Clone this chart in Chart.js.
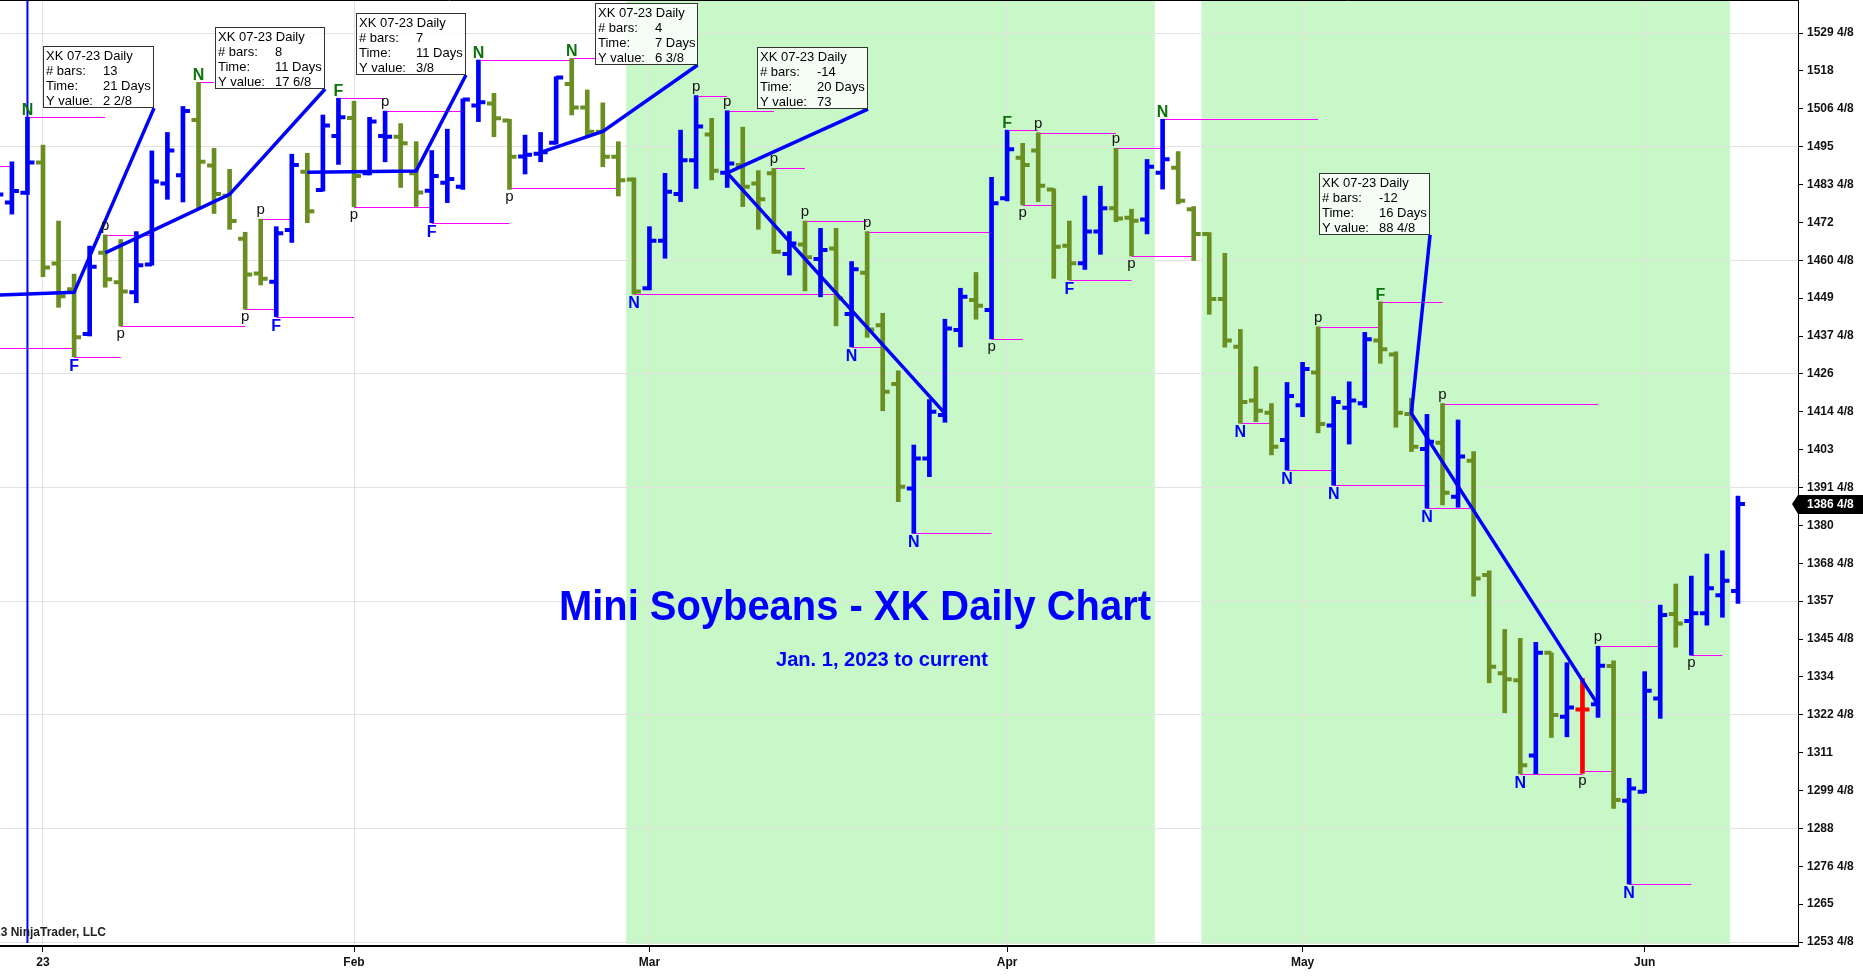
<!DOCTYPE html>
<html>
<head>
<meta charset="utf-8">
<title>Mini Soybeans - XK Daily Chart</title>
<script src="https://cdn.jsdelivr.net/npm/chart.js@4.4.0/dist/chart.umd.min.js"></script>
<style>
  html, body { margin: 0; padding: 0; background: #fff; overflow: hidden; }
  #wrap { width: 1863px; height: 977px; position: relative; }
</style>
</head>
<body>
<div id="wrap"><canvas id="chartPlaceholder"></canvas></div>
<script>
// daily bars, trading-day index -3 (late Dec 2022) .. 109 (Jun 9 2023)
const firstBarIdx = -3;
const opens = [
  1484, 1478, 1481, 1490.2, 1459.5, 1451.7, 1438.1, 1462.8, 1453.8, 1450.8,
  1459.2, 1483.8, 1486.3, 1503.1, 1489.3, 1480.1, 1467, 1456.5, 1454, 1469.7,
  1487.4, 1481.8, 1498.2, 1503.7, 1486.9, 1498.2, 1498, 1486.9, 1481.6, 1484,
  1482.8, 1507.5, 1508.1, 1502.9, 1492, 1492.8, 1496.2, 1514, 1506.9, 1499.5,
  1491.9, 1485, 1452, 1466.4, 1480.6, 1490.9, 1498.7, 1487.1, 1489.4, 1483.8,
  1486.9, 1462.4, 1465.3, 1460.9, 1464.1, 1444.2, 1456.7, 1440.8, 1422.9, 1391.2,
  1400.3, 1413.5, 1439.3, 1448.4, 1445.4, 1479.3, 1491.6, 1493.8, 1482, 1464.9,
  1459.6, 1469.2, 1476.3, 1473.4, 1472.9, 1487.1, 1488.6, 1476, 1468.5, 1448.7,
  1434.2, 1417.9, 1414.2, 1405.9, 1416.5, 1426.4, 1410.3, 1415.7, 1417.1, 1436.1,
  1431.9, 1413.8, 1403.2, 1405.1, 1388.7, 1399.6, 1364.9, 1335.1, 1333, 1310.1,
  1341.3, 1321.9, 1324.1, 1325.7, 1337.3, 1296.4, 1299.1, 1327.4, 1353.1, 1351,
  1353.3, 1358.8, 1360.1
];
const highs = [
  1492, 1490.4, 1503.9, 1495.5, 1472.4, 1456.3, 1464.8, 1468.2, 1466.8, 1469.2,
  1493.7, 1499.3, 1507.2, 1514.5, 1494.5, 1488.1, 1469, 1473, 1470.7, 1492.7,
  1493, 1504.6, 1509.7, 1508.8, 1503.9, 1505.8, 1502, 1496.5, 1493.8, 1500.3,
  1509.5, 1521.3, 1511.2, 1503.3, 1498.5, 1499.3, 1516.2, 1521.8, 1512.2, 1508.3,
  1496.5, 1485.5, 1470.7, 1486.9, 1500, 1510.5, 1503.6, 1505.9, 1500.9, 1487.7,
  1488.4, 1469.2, 1472.4, 1470.2, 1470.2, 1460.1, 1469.2, 1444.4, 1426.9, 1404.4,
  1418.2, 1442.6, 1452, 1456.8, 1485.7, 1500, 1496, 1499.2, 1482.2, 1472.4,
  1480, 1483, 1494.5, 1476, 1491.1, 1503.3, 1493.5, 1476.8, 1468.9, 1462.6,
  1439.5, 1428.2, 1417, 1423.4, 1429.5, 1440.3, 1419.1, 1423.6, 1438.6, 1447.9,
  1432.7, 1418.6, 1413.7, 1417, 1412, 1402.4, 1366.2, 1348.4, 1345.7, 1344.5,
  1341.3, 1338.3, 1333.5, 1343.3, 1338.9, 1303.2, 1335.6, 1355.8, 1362.2, 1364.6,
  1371.3, 1372.3, 1388.9
];
const lows = [
  1477, 1474.5, 1480.5, 1455.5, 1446.2, 1431.2, 1437.5, 1452.3, 1440.5, 1447.6,
  1459, 1479, 1478.2, 1476.2, 1474.7, 1469.9, 1445.6, 1453, 1443.4, 1465.9,
  1471.9, 1481.5, 1489.6, 1476.8, 1486.4, 1490.4, 1482.6, 1476.8, 1471.9, 1478,
  1482, 1502.6, 1498, 1482, 1486.7, 1490.4, 1495.8, 1504.6, 1498.2, 1488.9,
  1480, 1450.2, 1451.5, 1461.1, 1478.3, 1482.3, 1484.9, 1482.6, 1476.8, 1469.9,
  1462.6, 1456, 1451.2, 1449.4, 1440.6, 1434.2, 1437.1, 1414.8, 1387.2, 1377.6,
  1394.8, 1411.3, 1434.2, 1442.6, 1436.6, 1478.5, 1477.3, 1478.3, 1455, 1454.5,
  1457.7, 1462.3, 1472.2, 1461.8, 1468.5, 1482.1, 1477.6, 1460.4, 1444.1, 1434.1,
  1411, 1411.5, 1401.4, 1396.8, 1413, 1408.1, 1392.2, 1404.7, 1415.8, 1429.2,
  1409.8, 1402.4, 1385.2, 1386.2, 1385.5, 1358.5, 1332.2, 1323.1, 1304.5, 1304.5,
  1315.6, 1315.8, 1304.7, 1321.7, 1294.1, 1271.1, 1298.8, 1321.4, 1343, 1340.6,
  1349.7, 1352.1, 1356.3
];
const closes = [
  1480.5, 1481.5, 1490.2, 1458.3, 1449.6, 1437.1, 1458.5, 1454.7, 1451, 1459,
  1484.4, 1493.8, 1505.8, 1490.4, 1480.6, 1472.4, 1456.2, 1454.9, 1468.7, 1489.4,
  1475.4, 1501.4, 1503.9, 1486.1, 1502.6, 1498, 1496, 1481.1, 1486.1, 1485.2,
  1509.3, 1508.5, 1503.6, 1491.9, 1492.5, 1493.3, 1516, 1506.9, 1499.5, 1491.9,
  1484.8, 1451, 1466.4, 1481.3, 1490.9, 1501.1, 1487.7, 1489.9, 1482.8, 1479,
  1463.1, 1465.6, 1461.4, 1463.6, 1448.9, 1457.8, 1439.5, 1420.6, 1391.7, 1400.3,
  1414.5, 1439.8, 1449.4, 1446.7, 1477.8, 1494.2, 1489.4, 1483.1, 1464.6, 1459.6,
  1469.2, 1476.3, 1473.2, 1472.5, 1488.9, 1491.2, 1478.6, 1468.5, 1448.7, 1436.1,
  1417.5, 1414.8, 1403.9, 1419.3, 1427.5, 1410.8, 1417.5, 1417.9, 1436.5, 1433.5,
  1414.2, 1403.9, 1405.4, 1389.9, 1400.9, 1363.9, 1337.1, 1333.3, 1307.2, 1341.3,
  1322.4, 1324.7, 1324.1, 1337.4, 1296.6, 1300.1, 1329.8, 1352.8, 1350.2, 1353.3,
  1360.9, 1363.2, 1386.5
];
// u = up trend, d = down trend, e = even bar
const trend = [
  "u","u","u","d","d","d","u","d","d","u",
  "u","u","u","d","d","d","d","d","u","u",
  "d","u","u","d","u","u","d","d","u","u",
  "u","u","d","d","u","u","u","d","d","d",
  "d","d","u","u","u","u","d","u","d","d",
  "d","u","d","u","d","u","d","d","d","u",
  "u","u","u","d","u","u","d","d","d","d",
  "u","u","d","d","u","u","d","d","d","d",
  "d","d","d","u","u","d","u","u","u","d",
  "d","d","u","d","u","d","d","d","d","u",
  "d","u","e","u","d","u","u","u","d","u",
  "u","u","u"
];

const monthTickIdx = [0, 20, 39, 62, 81, 103];
const monthLabels = ["23", "Feb", "Mar", "Apr", "May", "Jun"];
const priceTicks = [
  1253.5, 1265, 1276.5, 1288, 1299.5, 1311, 1322.5, 1334, 1345.5, 1357,
  1368.5, 1380, 1391.5, 1403, 1414.5, 1426, 1437.5, 1449, 1460.5, 1472,
  1483.5, 1495, 1506.5, 1518, 1529.5
];

// shaded sessions (bar index from / to)
const shadeFrom = [37.5, 74.5];
const shadeTo = [71.5, 108.5];
const yearBreakIdx = -1;

// swing markers
const markerIdx = [-1, 2, 4, 5, 10, 13, 14, 15, 19, 20, 22, 25, 28, 30, 34, 38, 42, 44, 47, 49,
  52, 53, 56, 61, 62, 63, 64, 66, 69, 70, 72, 77, 80, 82, 83, 86, 89, 90, 95, 99, 100, 102, 106];
const markerText = ["N","F","p","p","N","p","p","F","F","p","p","F","N","p","N","N","p","p","p","p",
  "N","p","N","p","F","p","p","F","p","p","N","N","N","p","N","F","N","p","N","p","p","N","p"];
const markerSide = ["hi","lo","hi","lo","hi","lo","hi","lo","hi","lo","hi","lo","hi","lo","hi","lo","hi","hi","hi","hi",
  "lo","hi","lo","lo","hi","lo","hi","lo","hi","lo","hi","lo","lo","hi","lo","hi","lo","hi","lo","lo","hi","lo","lo"];

// swing level lines
const levelFrom = [-4, -4, -1, 2, 4, 5, 10, 13, 14, 15, 19, 20, 22, 25, 28, 34, 30, 38, 42, 44, 47, 49, 53, 52,
  56, 61, 62, 64, 63, 66, 69, 70, 72, 82, 77, 86, 80, 83, 89, 90, 95, 99, 100, 102, 106];
const levelTo = [-2, 2, 4, 5, 7, 13, 11, 15, 16, 20, 22, 25, 27, 30, 34, 36, 37, 51, 44, 47, 49, 53, 61, 54,
  61, 63, 64, 69, 65, 70, 72, 74, 82, 86, 79, 90, 83, 89, 92, 100, 99, 101, 104, 106, 108];
const levelPrice = [1489.1, 1434, 1503.9, 1431.2, 1468.2, 1440.5, 1514.5, 1445.6, 1473, 1443.4, 1509.7, 1476.8,
  1505.8, 1471.9, 1521.3, 1521.8, 1482.3, 1450.2, 1510.5, 1505.9, 1488.4, 1472.4, 1469.2, 1434.2,
  1377.6, 1436.6, 1500, 1499.2, 1477.3, 1454.5, 1494.5, 1461.8, 1503.3, 1440.3, 1411, 1447.9,
  1396.8, 1392.2, 1385.2, 1417, 1304.5, 1305.3, 1343.3, 1271.1, 1340.6];

// ruler drawings
const rulerFromIdx = [-11, 4, 17, 32, 58, 100];
const rulerFromPrice = [1448.5, 1462.75, 1487.25, 1493.25, 1414, 1325.5];
const rulerToIdx = [2, 12, 24, 36, 44, 88];
const rulerToPrice = [1450.75, 1480.5, 1487.625, 1499.625, 1487, 1414];
const rulerBoxIdx = [7.14, 18.14, 27.2, 42.1, 53.05, 89.2];
const rulerBoxPrice = [1506.7, 1512.5, 1516.75, 1519.8, 1506.4, 1468.2];
const rulerBars = ["13", "8", "7", "4", "-14", "-12"];
const rulerTime = ["21 Days", "11 Days", "11 Days", "7 Days", "20 Days", "16 Days"];
const rulerYValue = ["2 2/8", "17 6/8", "3/8", "6 3/8", "73", "88 4/8"];
const instrumentName = "XK 07-23 Daily";

const chartTitle = "Mini Soybeans - XK Daily Chart";
const chartSubtitle = "Jan. 1, 2023 to current";
const copyrightText = "\u00a9 2023 NinjaTrader, LLC";

const TREND_COLORS = { u: "#0000ff", d: "#6b8e23", e: "#ff0000" };
const FONT = "Arial, 'Liberation Sans', sans-serif";

function fmtPrice(v) {
  const whole = Math.floor(v + 1e-9);
  const eighths = Math.round((v - whole) * 8);
  return eighths === 0 ? `${whole}` : `${whole} ${eighths}/8`;
}

const barIdx = opens.map((_, k) => firstBarIdx + k);

function clipArea(ctx, a) {
  ctx.beginPath();
  ctx.rect(a.left, a.top, a.right - a.left, a.bottom - a.top);
  ctx.clip();
}

const ohlcPlugin = {
  id: "ohlc",
  beforeDraw(chart) {
    const { ctx, chartArea: a, scales } = chart;
    ctx.save();
    ctx.fillStyle = "#fff";
    ctx.fillRect(0, 0, chart.width, chart.height);
    ctx.fillStyle = "#c8f8c8";
    shadeFrom.forEach((f, k) => {
      const x1 = scales.x.getPixelForValue(f);
      const x2 = scales.x.getPixelForValue(shadeTo[k]);
      ctx.fillRect(x1, a.top, x2 - x1, a.bottom - a.top - 2);
    });
    ctx.restore();
  },
  beforeDatasetsDraw(chart) {
    const { ctx, chartArea: a, scales } = chart;
    ctx.save();
    clipArea(ctx, a);
    ctx.strokeStyle = "#ff00ff";
    ctx.lineWidth = 1;
    levelFrom.forEach((f, k) => {
      const y = Math.round(scales.y.getPixelForValue(levelPrice[k])) + 0.5;
      ctx.beginPath();
      ctx.moveTo(scales.x.getPixelForValue(f), y);
      ctx.lineTo(scales.x.getPixelForValue(levelTo[k]), y);
      ctx.stroke();
    });
    const xb = scales.x.getPixelForValue(yearBreakIdx);
    ctx.strokeStyle = "#0000ff";
    ctx.lineWidth = 2;
    ctx.beginPath();
    ctx.moveTo(xb, a.top);
    ctx.lineTo(xb, a.bottom - 3);
    ctx.stroke();
    ctx.restore();
  },
  afterDatasetDraw(chart, args) {
    if (args.index !== 0) return;
    const { ctx, chartArea: a, scales } = chart;
    ctx.save();
    clipArea(ctx, a);
    ctx.lineWidth = 4;
    barIdx.forEach((i, k) => {
      const cx = scales.x.getPixelForValue(i);
      const yo = scales.y.getPixelForValue(opens[k]);
      const yc = scales.y.getPixelForValue(closes[k]);
      ctx.strokeStyle = TREND_COLORS[trend[k]];
      ctx.beginPath();
      ctx.moveTo(cx - 7, yo);
      ctx.lineTo(cx, yo);
      ctx.moveTo(cx, yc);
      ctx.lineTo(cx + 7, yc);
      ctx.stroke();
    });
    ctx.restore();
  },
  afterDatasetsDraw(chart) {
    const { ctx, chartArea: a, scales } = chart;
    ctx.save();
    clipArea(ctx, a);

    // swing markers
    markerIdx.forEach((i, k) => {
      const k2 = i - firstBarIdx;
      const cx = scales.x.getPixelForValue(i);
      const txt = markerText[k];
      const hi = markerSide[k] === "hi";
      ctx.textAlign = "center";
      ctx.textBaseline = "alphabetic";
      if (txt === "p") {
        ctx.font = `15px ${FONT}`;
        ctx.fillStyle = "#111";
        const y = hi ? scales.y.getPixelForValue(highs[k2]) - 5 : scales.y.getPixelForValue(lows[k2]) + 12;
        ctx.fillText(txt, cx, y);
      } else {
        ctx.font = `bold 16px ${FONT}`;
        ctx.fillStyle = hi ? "#0a730a" : "#0000ff";
        const y = hi ? scales.y.getPixelForValue(highs[k2]) - 2 : scales.y.getPixelForValue(lows[k2]) + 14;
        ctx.fillText(txt, cx, y);
      }
    });

    // ruler boxes
    ctx.font = `13px ${FONT}`;
    ctx.textAlign = "left";
    ctx.textBaseline = "alphabetic";
    rulerBoxIdx.forEach((bi, k) => {
      const vals = [rulerBars[k], rulerTime[k], rulerYValue[k]];
      const w = Math.round(Math.max(ctx.measureText(instrumentName).width + 6,
        ...vals.map(v => ctx.measureText(v).width + 63)));
      const h = 62;
      const bx = Math.round(scales.x.getPixelForValue(bi));
      const by = Math.round(scales.y.getPixelForValue(rulerBoxPrice[k]));
      const x0 = bx - w, y0 = by - h;
      ctx.fillStyle = "rgba(255,255,255,0.8)";
      ctx.fillRect(x0, y0, w, h);
      ctx.strokeStyle = "#333";
      ctx.lineWidth = 1;
      ctx.strokeRect(x0 + 0.5, y0 + 0.5, w - 1, h - 1);
      ctx.fillStyle = "#000";
      ctx.fillText(instrumentName, x0 + 3, y0 + 14);
      ["# bars:", "Time:", "Y value:"].forEach((lab, j) => {
        ctx.fillText(lab, x0 + 3, y0 + 29 + j * 15);
        ctx.fillText(vals[j], x0 + 60, y0 + 29 + j * 15);
      });
    });

    // title
    ctx.fillStyle = "#0000ff";
    ctx.textAlign = "center";
    ctx.font = `bold 42px ${FONT}`;
    let tw = ctx.measureText(chartTitle).width;
    ctx.save();
    ctx.translate(855, 620);
    ctx.scale(592 / tw, 1);
    ctx.fillText(chartTitle, 0, 0);
    ctx.restore();
    ctx.font = `bold 20px ${FONT}`;
    tw = ctx.measureText(chartSubtitle).width;
    ctx.save();
    ctx.translate(882, 666);
    ctx.scale(212 / tw, 1);
    ctx.fillText(chartSubtitle, 0, 0);
    ctx.restore();

    // copyright
    ctx.fillStyle = "#222";
    ctx.textAlign = "right";
    ctx.font = `bold 12px ${FONT}`;
    ctx.fillText(copyrightText, 106, 936);
    ctx.restore();
  },
  afterDraw(chart) {
    const { ctx, chartArea: a, scales } = chart;
    const last = closes[closes.length - 1];
    const y = Math.round(scales.y.getPixelForValue(last));
    ctx.save();
    ctx.fillStyle = "#000";
    ctx.beginPath();
    ctx.moveTo(a.right - 6, y);
    ctx.lineTo(a.right, y - 9);
    ctx.lineTo(chart.width, y - 9);
    ctx.lineTo(chart.width, y + 10);
    ctx.lineTo(a.right, y + 10);
    ctx.closePath();
    ctx.fill();
    ctx.fillStyle = "#fff";
    ctx.font = `bold 12px ${FONT}`;
    ctx.textAlign = "left";
    ctx.textBaseline = "middle";
    ctx.fillText(fmtPrice(last), a.right + 9, y + 1);
    ctx.strokeStyle = "#000";
    ctx.lineWidth = 1;
    ctx.beginPath();
    ctx.moveTo(0, 0.5);
    ctx.lineTo(a.right, 0.5);
    ctx.stroke();
    ctx.restore();
  }
};

const datasets = [{
  type: "bar",
  label: "XK 07-23",
  data: barIdx.map((i, k) => ({ x: i, y: [lows[k], highs[k]] })),
  backgroundColor: trend.map(t => TREND_COLORS[t]),
  barThickness: 4,
  borderWidth: 0,
  order: 2
}];
rulerFromIdx.forEach((f, k) => {
  datasets.push({
    type: "line",
    label: "Ruler " + (k + 1),
    data: [
      { x: f, y: rulerFromPrice[k] },
      { x: rulerToIdx[k], y: rulerToPrice[k] },
      { x: rulerBoxIdx[k], y: rulerBoxPrice[k] }
    ],
    borderColor: "#0000ff",
    borderWidth: 3.5,
    pointRadius: 0,
    fill: false,
    tension: 0,
    order: 1
  });
});

Chart.defaults.font.family = FONT;

const ctx = document.getElementById("chartPlaceholder").getContext("2d");
window.myChart = new Chart(ctx, {
  data: { datasets: datasets },
  plugins: [ohlcPlugin],
  options: {
    responsive: true,
    maintainAspectRatio: false,
    animation: false,
    devicePixelRatio: 1,
    layout: { padding: 0 },
    plugins: { legend: { display: false }, tooltip: { enabled: false } },
    scales: {
      x: {
        type: "linear",
        position: "bottom",
        min: -2.765,
        max: 112.86,
        offset: false,
        afterBuildTicks: (scale) => { scale.ticks = monthTickIdx.map(v => ({ value: v })); },
        afterFit: (scale) => {
          scale.height = 31;
          scale.paddingLeft = 0;
          scale.paddingRight = 0;
        },
        ticks: {
          autoSkip: false,
          maxRotation: 0,
          padding: 3,
          color: "#111",
          font: { size: 12, weight: "bold" },
          callback: (v) => monthLabels[monthTickIdx.indexOf(v)]
        },
        grid: { offset: false, color: "#e2e2e2", lineWidth: 1, tickLength: 6, tickColor: "#000" },
        border: { display: true, color: "#000", width: 2 }
      },
      y: {
        type: "linear",
        position: "right",
        min: 1252.29,
        max: 1539.52,
        afterBuildTicks: (scale) => { scale.ticks = priceTicks.map(v => ({ value: v })); },
        afterFit: (scale) => {
          scale.width = 65;
          scale.paddingTop = 0;
          scale.paddingBottom = 0;
        },
        ticks: {
          autoSkip: false,
          padding: 4,
          color: "#111",
          font: { size: 12, weight: "bold" },
          callback: (v) => fmtPrice(v)
        },
        grid: {
          color: (c) => (c.index % 3 === 0 ? "#e2e2e2" : "rgba(0,0,0,0)"),
          lineWidth: 1,
          tickLength: 5,
          tickColor: "#000"
        },
        border: { display: true, color: "#000", width: 1 }
      }
    }
  }
});
</script>
</body>
</html>
